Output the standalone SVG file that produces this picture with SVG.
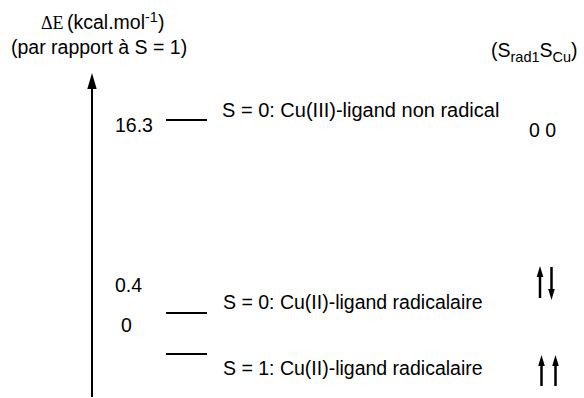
<svg xmlns="http://www.w3.org/2000/svg" width="584" height="398" viewBox="0 0 584 398">
  <style>
    .t { font-family: "Liberation Sans", Arial, sans-serif; font-size: 19.5px; fill: #000; }
    .big { font-size: 20px; }
    .serif { font-family: "Liberation Serif", "Times New Roman", serif; }
    .sub { font-size: 14.5px; }
    .lvl { stroke: #000; stroke-width: 2; fill: none; }
    .spin { stroke: #000; stroke-width: 2.5; fill: none; }
    .axis { stroke: #000; stroke-width: 2; fill: none; }
  </style>
  <defs>
    <marker id="axisHead" markerUnits="userSpaceOnUse" markerWidth="18" markerHeight="12" refX="0" refY="0" viewBox="0 -6 18 12" orient="auto">
      <path d="M0,-4.7 L16,0 L0,4.7 Z" fill="#000"/>
    </marker>
    <marker id="spinHead" markerUnits="userSpaceOnUse" markerWidth="12" markerHeight="8" refX="0" refY="0" viewBox="0 -4 12 8" orient="auto">
      <path d="M0,-3.3 L11,0 L0,3.3 Z" fill="#000"/>
    </marker>
  </defs>
  <rect width="584" height="398" fill="#fff"/>

  <g id="header-left">
    <text class="t" y="29"><tspan class="serif" x="41" font-size="18">ΔE</tspan><tspan x="67">(kcal.mol</tspan><tspan class="sub" dy="-7">-1</tspan><tspan dy="7">)</tspan></text>
    <text class="t" x="11" y="54">(par rapport à S = 1)</text>
  </g>

  <g id="header-right">
    <text class="t" y="57"><tspan x="491">(S</tspan><tspan class="sub" dy="5">rad1</tspan><tspan dy="-5">S</tspan><tspan class="sub" dy="5">Cu</tspan><tspan dy="-5">)</tspan></text>
  </g>

  <g id="connectors">
    <line id="energy-axis" class="axis" x1="92" y1="397" x2="92" y2="89" marker-end="url(#axisHead)"/>
  </g>

  <g id="level-s0-cu3">
    <line class="lvl" x1="166" y1="120" x2="207" y2="120"/>
    <text class="t" x="115" y="132">16.3</text>
    <text class="t big" x="222" y="117">S = 0: Cu(III)-ligand non radical</text>
    <text class="t" x="529" y="137">0 0</text>
  </g>

  <g id="level-s0-cu2">
    <line class="lvl" x1="166" y1="313" x2="207" y2="313"/>
    <text class="t" x="115" y="292">0.4</text>
    <text class="t" x="223" y="309">S = 0: Cu(II)-ligand radicalaire</text>
    <line class="spin" x1="540" y1="298" x2="540" y2="277" marker-end="url(#spinHead)"/>
    <line class="spin" x1="551.5" y1="267" x2="551.5" y2="289" marker-end="url(#spinHead)"/>
  </g>

  <g id="level-s1-cu2">
    <line class="lvl" x1="166" y1="354" x2="207" y2="354"/>
    <text class="t" x="121" y="332">0</text>
    <text class="t" x="223" y="375">S = 1: Cu(II)-ligand radicalaire</text>
    <line class="spin" x1="541.5" y1="386" x2="541.5" y2="366" marker-end="url(#spinHead)"/>
    <line class="spin" x1="555.5" y1="386" x2="555.5" y2="366" marker-end="url(#spinHead)"/>
  </g>
</svg>
